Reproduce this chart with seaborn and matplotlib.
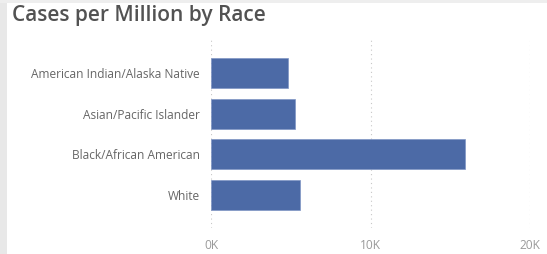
import matplotlib
matplotlib.use("Agg")
import matplotlib.pyplot as plt
import seaborn as sns
import pandas as pd
from matplotlib.patches import Rectangle
from matplotlib.ticker import FuncFormatter

races = ["American Indian/Alaska Native", "Asian/Pacific Islander", "Black/African American", "White"]
cases_per_million = [4800, 5250, 15950, 5600]
x_ticks = [0, 10000, 20000]

df = pd.DataFrame({"Race": races, "Cases": cases_per_million})

sns.set_theme(style="white")
plt.rcParams['font.family'] = ['Open Sans', 'DejaVu Sans']

fig = plt.figure(figsize=(5.47, 2.54), dpi=100)
fig.patch.set_facecolor("white")
ax = fig.add_axes([211/547, 1-228/254, 319/547, 188/254])

sns.barplot(data=df, x="Cases", y="Race", orient="h", color="#4C6AA6",
            saturation=1, width=0.74, ax=ax, edgecolor="#7f95c4", linewidth=0.5)

ax.set_xlim(0, 20000)
ax.set_ylim(3.81, -0.81)
ax.set_xticks(x_ticks)
ax.xaxis.set_major_formatter(FuncFormatter(lambda v, p: f"{int(v/1000)}K"))
ax.set_xlabel("")
ax.set_ylabel("")
for s in ax.spines.values():
    s.set_visible(False)
ax.grid(axis="x", linestyle=(0, (1, 3)), color="#c8c8c8", linewidth=0.8)
ax.set_axisbelow(True)
ax.tick_params(axis="y", length=0, pad=8, labelsize=8.6, labelcolor="#666666")
ax.tick_params(axis="x", length=0, pad=8, labelsize=8.6, labelcolor="#9a9a9a")

fig.patches.append(Rectangle((0, 0), 7/547, 1, transform=fig.transFigure,
                             facecolor="#e8e8e8", edgecolor="none", zorder=0))
fig.patches.append(Rectangle((0, 1-3/254), 1, 3/254, transform=fig.transFigure,
                             facecolor="#eeeeee", edgecolor="none", zorder=0))

fig.text(12/547, 1-16/254, "Cases per Million by Race", fontsize=15,
         fontweight="semibold", color="#525252", va="center", ha="left")

fig.savefig("out.png", dpi=100)
